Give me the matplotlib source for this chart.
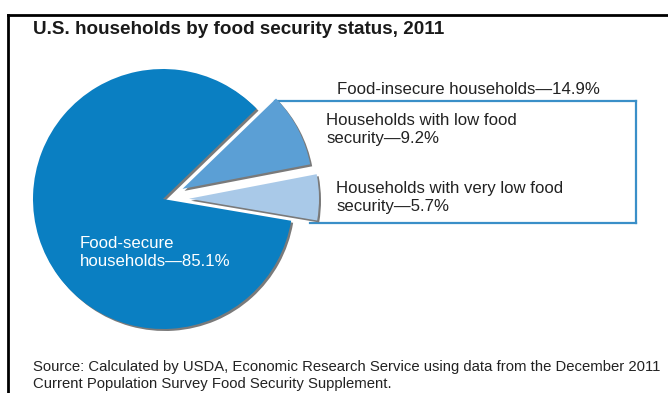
import matplotlib
matplotlib.use("Agg")
import matplotlib.pyplot as plt

# food security shares, 2011 (percent of U.S. households)
shares = [85.1, 5.7, 9.2]
share_names = ["Food-secure households", "Very low food security", "Low food security"]
colors = ["#0a7fc2", "#a9c9e8", "#5b9fd5"]
insecure_total = 14.9

plt.rcParams["font.family"] = ["Liberation Sans", "DejaVu Sans"]

W, H = 668, 393
fig = plt.figure(figsize=(W / 100, H / 100), dpi=100)
ax = fig.add_axes([0, 0, 1, 1])

cx, cy = 163, H - 199
r = 130
# explode is in data units here (pixels), not fractions
explode = [0, 26, 22]

# box behind the insecure slices
box_col = "#3a8fc8"
ax.plot([275, 636], [H - 101, H - 101], color=box_col, lw=1.6, zorder=1)
ax.plot([636, 636], [H - 101, H - 223], color=box_col, lw=1.6, zorder=1)
ax.plot([310, 636], [H - 223, H - 223], color=box_col, lw=1.6, zorder=1)

# grey shadow, then the coloured wedges on top
ax.pie(shares, radius=r, center=(cx + 2, cy - 2), startangle=44, explode=explode,
       colors=["#7a7a7a"] * 3, frame=True, wedgeprops=dict(linewidth=0, zorder=2))
ax.pie(shares, radius=r, center=(cx, cy), startangle=44, explode=explode,
       colors=colors, frame=True, wedgeprops=dict(linewidth=0, zorder=3))

ax.set_xlim(0, W)
ax.set_ylim(0, H)
ax.set_aspect("equal")
ax.axis("off")

# outer frame (top and left only)
ax.plot([8, W], [H - 15, H - 15], color="black", lw=2, clip_on=False, zorder=5)
ax.plot([8, 8], [H - 15, 0], color="black", lw=2, clip_on=False, zorder=5)

ax.text(33, H - 30, "U.S. households by food security status, 2011", fontsize=13.6,
        fontweight="bold", color="#1a1a1a", va="center", ha="left")

ax.text(337, H - 89, f"Food-insecure households\u2014{insecure_total}%", fontsize=12.1,
        color="#222222", va="center", ha="left", zorder=4)
ax.text(326, H - 129.5, f"Households with low food\nsecurity\u2014{shares[2]}%", fontsize=12.1,
        color="#222222", va="center", ha="left", linespacing=1.25, zorder=4)
ax.text(336, H - 197.5, f"Households with very low food\nsecurity\u2014{shares[1]}%", fontsize=12.1,
        color="#222222", va="center", ha="left", linespacing=1.25, zorder=4)
ax.text(80, H - 253, f"Food-secure\nhouseholds\u2014{shares[0]}%", fontsize=12.1,
        color="white", va="center", ha="left", linespacing=1.25, zorder=4)

ax.text(33, H - 375.5, "Source: Calculated by USDA, Economic Research Service using data from the December 2011\n"
        "Current Population Survey Food Security Supplement.", fontsize=10.75,
        color="#222222", va="center", ha="left", linespacing=1.2)

fig.savefig("out.png", dpi=100, facecolor="white")
